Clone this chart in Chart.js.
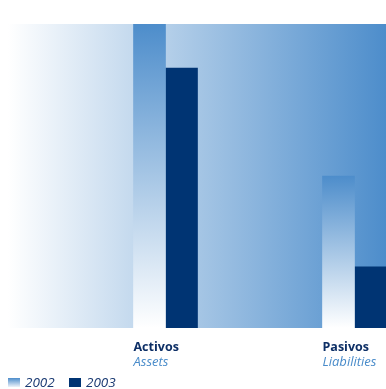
<!DOCTYPE html>
<html>
<head>
<meta charset="utf-8">
<script src="https://cdn.jsdelivr.net/npm/chart.js@4/dist/chart.umd.min.js"></script>
<style>
  html, body { margin: 0; padding: 0; background: #ffffff; }
  canvas { display: block; }
</style>
</head>
<body>
<canvas id="chart" width="386" height="389"></canvas>
<script>
// Balance totals, shown as an index (Activos 2002 = 100)
const categories = ['Activos', 'Pasivos'];
const subtitles = ['Assets', 'Liabilities'];
const years = ['2002', '2003'];
const values2002 = [100, 50];
const values2003 = [85.5, 20.1];

// Each group sits on a wide slot of a six-slot category axis
const slotOf = [2, 5];
const SLOTS = 6;

function spread(arr) {
  const out = new Array(SLOTS).fill(null);
  slotOf.forEach((s, i) => { out[s] = arr[i]; });
  return out;
}

const mainLabels = spread(categories).map(v => v || '');

const BLUE = '#4d8dcb';
const NAVY = '#003473';
const FONT = "'Open Sans', sans-serif";
const BAR = 32;

// Vertical blue-to-white fill for the 2002 bars
function fadeBar(ctx) {
  const chart = ctx.chart;
  if (!chart.chartArea || !ctx.parsed || !Number.isFinite(ctx.parsed.y)) return BLUE;
  const y = chart.scales.y;
  const top = y.getPixelForValue(ctx.parsed.y);
  const base = y.getPixelForValue(0);
  if (!Number.isFinite(top) || !Number.isFinite(base)) return BLUE;
  const g = chart.ctx.createLinearGradient(0, top, 0, base);
  g.addColorStop(0, BLUE);
  g.addColorStop(1, '#ffffff');
  return g;
}

// Horizontal white-to-blue wash behind the plot
const wash = {
  id: 'wash',
  beforeDatasetsDraw(chart) {
    const { ctx, chartArea: a } = chart;
    const g = ctx.createLinearGradient(a.left, 0, a.right, 0);
    g.addColorStop(0, '#ffffff');
    g.addColorStop(1, BLUE);
    ctx.save();
    ctx.fillStyle = g;
    ctx.fillRect(a.left, a.top, a.right - a.left, a.bottom - a.top);
    ctx.restore();
  }
};

// English captions under each Spanish category label
const captions = {
  id: 'captions',
  afterDraw(chart) {
    const ctx = chart.ctx;
    const x = chart.scales.x;
    ctx.save();
    ctx.font = "italic 13px " + FONT;
    ctx.fillStyle = '#4a8cca';
    ctx.textAlign = 'left';
    ctx.textBaseline = 'middle';
    subtitles.forEach((t, i) => {
      ctx.fillText(t, x.getPixelForTick(slotOf[i]) - BAR, 362);
    });
    ctx.restore();
  }
};

// Small legend in the lower-left corner
const yearKey = {
  id: 'yearKey',
  afterDraw(chart) {
    const ctx = chart.ctx;
    const items = [{ x: 8 }, { x: 69 }];
    ctx.save();
    ctx.font = "italic 13.5px " + FONT;
    ctx.textBaseline = 'alphabetic';
    chart.data.datasets.forEach((ds, i) => {
      const x = items[i].x, y = 378, w = 12, h = 9;
      if (i === 0) {
        const g = ctx.createLinearGradient(0, y, 0, y + h);
        g.addColorStop(0, BLUE);
        g.addColorStop(1, '#eef3fa');
        ctx.fillStyle = g;
      } else {
        ctx.fillStyle = ds.backgroundColor;
      }
      ctx.fillRect(x, y, w, h);
      ctx.fillStyle = '#1a3a72';
      ctx.fillText(ds.label, x + w + 5, 387);
    });
    ctx.restore();
  }
};

// Labels are left-aligned to their group; fix the axis band height
function fitAxis(scale) {
  scale.paddingLeft = 0;
  scale.paddingRight = 0;
  scale.height = 40;
}

new Chart(document.getElementById('chart'), {
  type: 'bar',
  data: {
    labels: mainLabels,
    datasets: [
      { label: years[0], data: spread(values2002), backgroundColor: fadeBar, barThickness: BAR },
      { label: years[1], data: spread(values2003), backgroundColor: NAVY, barThickness: BAR }
    ]
  },
  options: {
    responsive: false,
    animation: false,
    devicePixelRatio: 1,
    layout: { padding: { top: 24, left: 8, right: 0, bottom: 21 } },
    plugins: { legend: { display: false }, tooltip: { enabled: false } },
    scales: {
      x: {
        afterFit: fitAxis,
        grid: { display: false, drawTicks: false },
        border: { display: false },
        ticks: {
          autoSkip: false, maxRotation: 0, minRotation: 0,
          align: 'start', labelOffset: -BAR, padding: 12,
          color: '#0d2f66', font: { family: FONT, size: 12.5, weight: 'bold' }
        }
      },
      y: { display: false, min: 0, max: 100 }
    }
  },
  plugins: [wash, captions, yearKey]
});
</script>
</body>
</html>
